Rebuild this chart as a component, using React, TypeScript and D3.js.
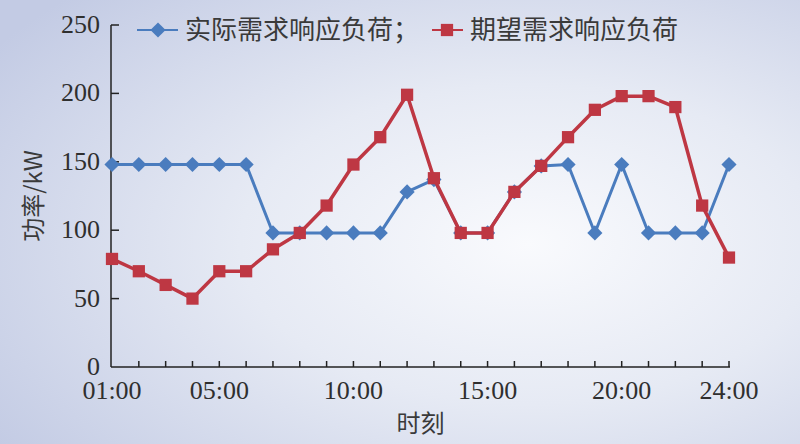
import { useEffect, useRef } from 'react'
import * as d3 from 'd3'

const HOURS = [
  '01:00', '02:00', '03:00', '04:00', '05:00', '06:00', '07:00', '08:00',
  '09:00', '10:00', '11:00', '12:00', '13:00', '14:00', '15:00', '16:00',
  '17:00', '18:00', '19:00', '20:00', '21:00', '22:00', '23:00', '24:00',
]
const ACTUAL = [148, 148, 148, 148, 148, 148, 98, 98, 98, 98, 98, 128, 137, 98, 98, 128, 147, 148, 98, 148, 98, 98, 98, 148]
const EXPECTED = [79, 70, 60, 50, 70, 70, 86, 98, 118, 148, 168, 199, 138, 98, 98, 128, 147, 168, 188, 198, 198, 190, 118, 80]
const X_LABELS = ['01:00', '05:00', '10:00', '15:00', '20:00', '24:00']
const Y_TICKS = [0, 50, 100, 150, 200, 250]

const BLUE = '#4a7cbe'
const RED = '#be3743'
const W = 800
const H = 444
const M = { top: 25, right: 71, bottom: 77, left: 112 }
const SERIF = '"Liberation Serif", "Times New Roman", serif'
const CJK = '"Noto Sans CJK SC", sans-serif'

export default function App() {
  const svgRef = useRef<SVGSVGElement>(null)

  useEffect(() => {
    const svgEl = svgRef.current
    if (!svgEl) return
    const root = d3.select(svgEl)
    root.selectAll('*').remove()

    const defs = root.append('defs')
    const grad = defs.append('radialGradient')
      .attr('id', 'bg').attr('cx', '0.66').attr('cy', '0.55').attr('r', '0.8')
    grad.append('stop').attr('offset', '0').attr('stop-color', '#f9fafd')
    grad.append('stop').attr('offset', '0.45').attr('stop-color', '#e6eaf4')
    grad.append('stop').attr('offset', '1').attr('stop-color', '#c3cbe4')
    root.append('rect').attr('width', W).attr('height', H).attr('fill', 'url(#bg)')

    const x = d3.scalePoint<string>().domain(HOURS).range([M.left, W - M.right])
    const y = d3.scaleLinear().domain([0, 250]).range([H - M.bottom, M.top])
    const x0 = M.left - 1
    const yBase = y(0)

    // axes
    const axis = root.append('g').attr('stroke', '#222').attr('stroke-width', 1.5)
    axis.append('line').attr('x1', x0).attr('x2', x0).attr('y1', y(250)).attr('y2', yBase)
    axis.append('line').attr('x1', x0).attr('x2', (x('24:00') ?? 0) + 1).attr('y1', yBase).attr('y2', yBase)
    Y_TICKS.filter(t => t > 0).forEach(t => {
      axis.append('line').attr('x1', x0).attr('x2', x0 + 8).attr('y1', y(t)).attr('y2', y(t))
    })
    HOURS.slice(1).forEach(h => {
      const px = x(h) ?? 0
      axis.append('line').attr('x1', px).attr('x2', px).attr('y1', yBase).attr('y2', yBase - 6)
    })

    root.append('g').selectAll('text').data(Y_TICKS).join('text')
      .attr('x', 100).attr('y', d => y(d) + 8)
      .attr('text-anchor', 'end')
      .attr('font-family', SERIF).attr('font-size', 26).attr('fill', '#2f2f2f')
      .text(d => d)

    root.append('g').selectAll('text').data(X_LABELS).join('text')
      .attr('x', d => x(d) ?? 0).attr('y', 399)
      .attr('text-anchor', 'middle')
      .attr('font-family', SERIF).attr('font-size', 26).attr('fill', '#2f2f2f')
      .text(d => d)

    root.append('text')
      .attr('x', (M.left + W - M.right) / 2).attr('y', 432)
      .attr('text-anchor', 'middle')
      .attr('font-family', CJK).attr('font-size', 24).attr('fill', '#3a3a3a')
      .text('时刻')

    root.append('text')
      .attr('transform', `translate(42,${(M.top + yBase) / 2}) rotate(-90)`)
      .attr('text-anchor', 'middle')
      .attr('font-family', CJK).attr('font-size', 24).attr('fill', '#3a3a3a')
      .text('功率/kW')

    // series
    const line = d3.line<number>().x((_, i) => x(HOURS[i]) ?? 0).y(d => y(d))
    const diamond = d3.symbol().type(d3.symbolSquare).size(115)
    const square = d3.symbol().type(d3.symbolSquare).size(150)

    const drawSeries = (vals: number[], color: string, width: number, sym: d3.Symbol<any, any>, rot: number) => {
      const g = root.append('g')
      g.append('path').attr('d', line(vals) ?? '')
        .attr('fill', 'none').attr('stroke', color).attr('stroke-width', width)
        .attr('stroke-linejoin', 'round')
      g.selectAll('path.mk').data(vals).join('path')
        .attr('class', 'mk')
        .attr('transform', (d, i) => `translate(${x(HOURS[i])},${y(d)}) rotate(${rot})`)
        .attr('d', sym() ?? '')
        .attr('fill', color)
    }
    drawSeries(ACTUAL, BLUE, 3, diamond, 45)
    drawSeries(EXPECTED, RED, 3.5, square, 0)

    // legend
    const lg = root.append('g').attr('font-family', CJK).attr('font-size', 26).attr('fill', '#3a3a3a')
    const ly = 30
    lg.append('line').attr('x1', 137).attr('x2', 178).attr('y1', ly).attr('y2', ly)
      .attr('stroke', BLUE).attr('stroke-width', 2)
    lg.append('path').attr('transform', `translate(158,${ly}) rotate(45)`).attr('d', diamond() ?? '').attr('fill', BLUE)
    lg.append('text').attr('x', 185).attr('y', ly + 9).text('实际需求响应负荷；')
    lg.append('line').attr('x1', 432).attr('x2', 463).attr('y1', ly).attr('y2', ly)
      .attr('stroke', RED).attr('stroke-width', 2)
    lg.append('path').attr('transform', `translate(447,${ly})`).attr('d', square() ?? '').attr('fill', RED)
    lg.append('text').attr('x', 470).attr('y', ly + 9).text('期望需求响应负荷')
  }, [])

  return (
    <svg
      ref={svgRef}
      width={W}
      height={H}
      style={{ position: 'absolute', left: 0, top: 0, display: 'block' }}
    />
  )
}
